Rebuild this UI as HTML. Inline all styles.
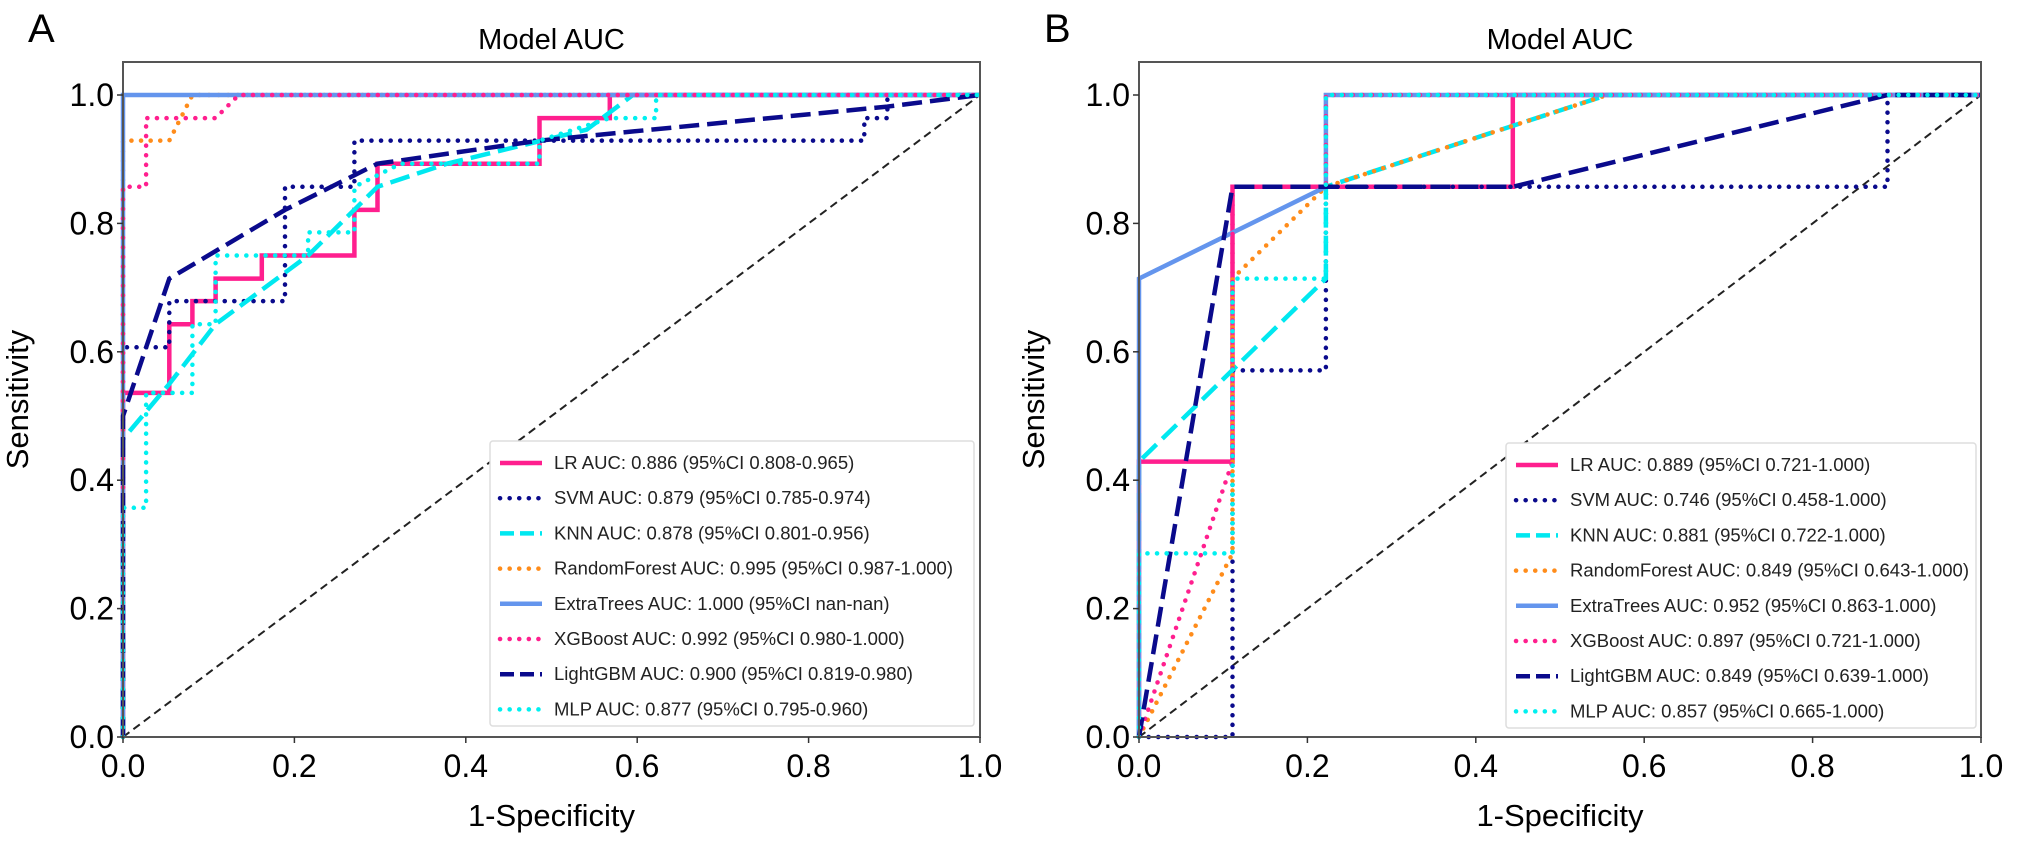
<!DOCTYPE html>
<html><head><meta charset="utf-8"><style>
html,body{margin:0;padding:0;background:#fff}
svg{display:block;font-family:"Liberation Sans",Arial,sans-serif}
</style></head><body>
<svg id="fig" width="2031" height="842" viewBox="0 0 2031 842" xmlns="http://www.w3.org/2000/svg"></svg>
<script>
const tickValues=[0,0.2,0.4,0.6,0.8,1.0];
const tickLabels=["0.0","0.2","0.4","0.6","0.8","1.0"];
const seriesNames=["LR","SVM","KNN","RandomForest","ExtraTrees","XGBoost","LightGBM","MLP"];
const legendA=["LR AUC: 0.886 (95%CI 0.808-0.965)","SVM AUC: 0.879 (95%CI 0.785-0.974)","KNN AUC: 0.878 (95%CI 0.801-0.956)","RandomForest AUC: 0.995 (95%CI 0.987-1.000)","ExtraTrees AUC: 1.000 (95%CI nan-nan)","XGBoost AUC: 0.992 (95%CI 0.980-1.000)","LightGBM AUC: 0.900 (95%CI 0.819-0.980)","MLP AUC: 0.877 (95%CI 0.795-0.960)"];
const legendB=["LR AUC: 0.889 (95%CI 0.721-1.000)","SVM AUC: 0.746 (95%CI 0.458-1.000)","KNN AUC: 0.881 (95%CI 0.722-1.000)","RandomForest AUC: 0.849 (95%CI 0.643-1.000)","ExtraTrees AUC: 0.952 (95%CI 0.863-1.000)","XGBoost AUC: 0.897 (95%CI 0.721-1.000)","LightGBM AUC: 0.849 (95%CI 0.639-1.000)","MLP AUC: 0.857 (95%CI 0.665-1.000)"];
// Panel A curves
const A_LR=[[0,0],[0,0.536],[0.054,0.536],[0.054,0.643],[0.081,0.643],[0.081,0.679],[0.108,0.679],[0.108,0.714],[0.162,0.714],[0.162,0.75],[0.27,0.75],[0.27,0.821],[0.297,0.821],[0.297,0.893],[0.486,0.893],[0.486,0.964],[0.568,0.964],[0.568,1],[1,1]];
const A_SVM=[[0,0],[0,0.607],[0.054,0.607],[0.054,0.679],[0.108,0.679],[0.189,0.679],[0.189,0.857],[0.27,0.857],[0.27,0.929],[0.865,0.929],[0.865,0.964],[0.892,0.964],[0.892,1],[1,1]];
const A_KNN=[[0,0],[0,0.464],[0.054,0.55],[0.108,0.643],[0.216,0.75],[0.297,0.857],[0.378,0.893],[0.541,0.946],[0.595,1],[1,1]];
const A_RF=[[0,0],[0,0.929],[0.054,0.929],[0.081,1],[1,1]];
const A_ET=[[0,0],[0,1],[1,1]];
const A_XGB=[[0,0],[0,0.857],[0.027,0.857],[0.027,0.964],[0.108,0.964],[0.135,1],[1,1]];
const A_LGBM=[[0,0],[0,0.5],[0.054,0.714],[0.189,0.821],[0.297,0.893],[0.486,0.929],[0.892,0.982],[1,1]];
const A_MLP=[[0,0],[0,0.357],[0.027,0.357],[0.027,0.536],[0.081,0.536],[0.081,0.643],[0.108,0.643],[0.108,0.75],[0.216,0.75],[0.216,0.786],[0.27,0.786],[0.27,0.857],[0.324,0.893],[0.486,0.893],[0.486,0.929],[0.568,0.964],[0.622,0.964],[0.622,1],[1,1]];
// Panel B curves
const B_LR=[[0,0],[0,0.429],[0.111,0.429],[0.111,0.857],[0.444,0.857],[0.444,1],[1,1]];
const B_SVM=[[0,0],[0.111,0],[0.111,0.571],[0.222,0.571],[0.222,0.857],[0.889,0.857],[0.889,1],[1,1]];
const B_KNN=[[0,0],[0,0.429],[0.222,0.714],[0.222,0.857],[0.556,1],[1,1]];
const B_RF=[[0,0],[0.111,0.286],[0.111,0.714],[0.222,0.857],[0.556,1],[1,1]];
const B_ET=[[0,0],[0,0.714],[0.222,0.857],[0.222,1],[1,1]];
const B_XGB=[[0,0],[0.111,0.429],[0.111,0.857],[0.222,0.857],[0.222,1],[1,1]];
const B_LGBM=[[0,0],[0.111,0.857],[0.444,0.857],[0.889,1],[1,1]];
const B_MLP=[[0,0],[0,0.286],[0.111,0.286],[0.111,0.714],[0.222,0.714],[0.222,1],[1,1]];

const DOT="0.1,9.5";
const styles=[
 {c:"#ff1f8e",d:""},{c:"#0a0a8c",d:DOT},{c:"#00e8f0",d:"20,8"},{c:"#ff8c1a",d:DOT},
 {c:"#6495ed",d:""},{c:"#ff1f8e",d:DOT},{c:"#0a0a8c",d:"20,8"},{c:"#00f0f0",d:DOT}];
const NS="http://www.w3.org/2000/svg";
const svg=document.getElementById('fig');
function mk(tag,attrs,parent,text){const e=document.createElementNS(NS,tag);for(const k in attrs)e.setAttribute(k,attrs[k]);if(text!==undefined)e.textContent=text;(parent||svg).appendChild(e);return e;}

function panel(p,letter,series,legend){
 const g=mk('g',{});
 
 
 const sx=v=>p.x0+v*(p.x1-p.x0);
 const sy=v=>p.y0-v*(p.y0-p.y1);
 const t=mk('text',{x:p.lx,y:p.ly,'font-size':40},g,letter);
 
 
 const ti=mk('text',{x:(p.x0+p.x1)/2,y:49,'font-size':29,'text-anchor':'middle'},g,'Model AUC');
 
 
 const dg=mk('line',{x1:sx(0),y1:sy(0),x2:sx(1),y2:sy(1),stroke:'#222','stroke-width':2,'stroke-dasharray':'8,5'},g);
 
 
 series.forEach((s,i)=>{
  const st=styles[i];
  const pts=s.map(q=>sx(q[0]).toFixed(1)+','+sy(q[1]).toFixed(1)).join(' ');
  const pl=mk('polyline',{points:pts,fill:'none',stroke:st.c,'stroke-width':4.5,'stroke-dasharray':st.d,'stroke-linecap':st.d===DOT?'round':'butt','stroke-linejoin':'miter'},g);
  
  
 });
 const fr=mk('rect',{x:p.x0,y:p.top,width:p.x1-p.x0,height:p.y0-p.top,fill:'none',stroke:'#555','stroke-width':2},g);
 
 
 tickValues.forEach((v,i)=>{
  mk('line',{x1:sx(v),y1:p.y0,x2:sx(v),y2:p.y0+6,stroke:'#333','stroke-width':1.5},g);
  const xt=mk('text',{x:sx(v),y:p.y0+40,'font-size':32,'text-anchor':'middle'},g,tickLabels[i]);
  
  
  mk('line',{x1:p.x0-6,y1:sy(v),x2:p.x0,y2:sy(v),stroke:'#333','stroke-width':1.5},g);
  const yt=mk('text',{x:p.x0-9,y:sy(v)+11,'font-size':32,'text-anchor':'end'},g,tickLabels[i]);
  
  
 });
 const xl=mk('text',{x:(p.x0+p.x1)/2,y:826,'font-size':31,'text-anchor':'middle'},g,'1-Specificity');
 
 
 const yx=p.x0-95, yy=(p.y0+p.top)/2;
 const yl=mk('text',{x:yx,y:yy,'font-size':31,'text-anchor':'middle',transform:`rotate(-90 ${yx} ${yy})`},g,'Sensitivity');
 
 
 const lg=mk('g',{},g);
 
 
 mk('rect',{x:p.legX,y:p.legY,width:p.legW,height:285,fill:'#fff',stroke:'#ddd','stroke-width':1.5,rx:3},lg);
 legend.forEach((txt,i)=>{
  const y=p.legY+22+i*35.2, st=styles[i];
  const e=mk('g',{},lg);
  
  
  mk('line',{x1:p.legX+10,y1:y,x2:p.legX+52,y2:y,stroke:st.c,'stroke-width':4.5,'stroke-dasharray':st.d==='20,8'?'14,6':st.d,'stroke-linecap':st.d===DOT?'round':'butt'},e);
  mk('text',{x:p.legX+64,y:y+6,'font-size':18.5,fill:'#222'},e,txt);
 });
}
panel({x0:123,x1:980,y0:737,y1:95,top:62,lx:28,ly:42,legX:490,legY:441,legW:484},'A',[A_LR,A_SVM,A_KNN,A_RF,A_ET,A_XGB,A_LGBM,A_MLP],legendA);
panel({x0:1139,x1:1981,y0:737,y1:95,top:62,lx:1044,ly:42,legX:1506,legY:443,legW:470},'B',[B_LR,B_SVM,B_KNN,B_RF,B_ET,B_XGB,B_LGBM,B_MLP],legendB);
</script>
</body></html>
